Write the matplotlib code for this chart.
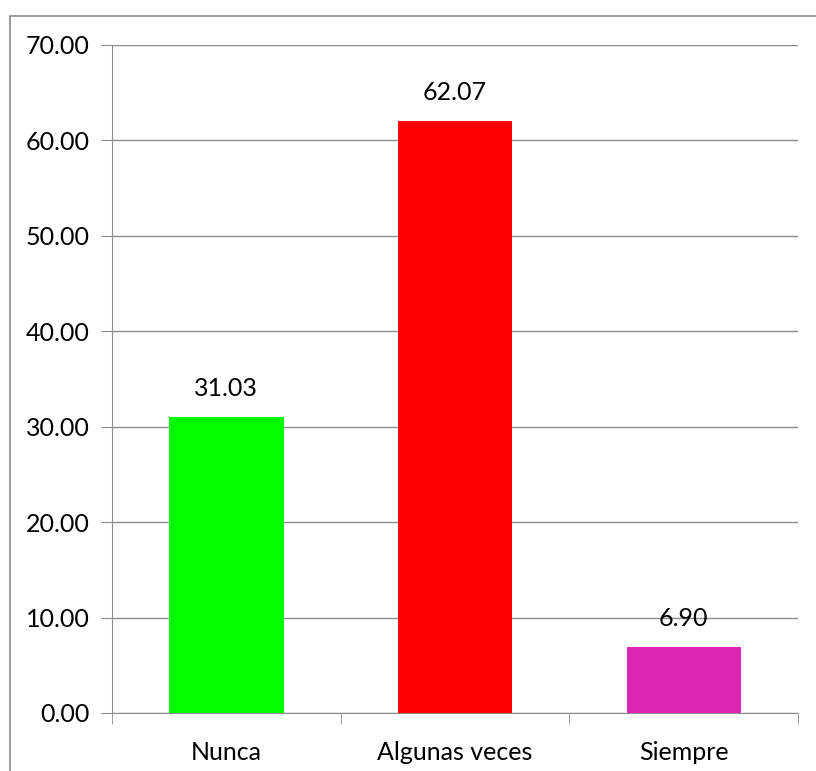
import matplotlib.pyplot as plt
from matplotlib.patches import Rectangle

categorias = ["Nunca", "Algunas veces", "Siempre"]
valores = [31.03, 62.07, 6.90]
colores = ["#00FF00", "#FF0000", "#DC26B2"]
ticks_y = [0, 10, 20, 30, 40, 50, 60, 70]

plt.rcParams['font.family'] = ['Lato', 'DejaVu Sans']
gris = "#8c8c8c"

fig = plt.figure(figsize=(8.16, 7.71), dpi=100)
ax = fig.add_axes([112/816, 1 - 713/771, 686/816, 668/771])

# marco exterior
fig.patches.append(Rectangle((10/816, -0.1), 1.2, 1 - 16/771 + 0.1, transform=fig.transFigure,
                             fill=False, edgecolor=gris, linewidth=1.2))

x = range(len(categorias))
ax.bar(x, valores, width=0.5, color=colores, zorder=3)
for i, v in enumerate(valores):
    ax.annotate(f"{v:.2f}", (i, v), xytext=(0, 12), textcoords="offset points",
                ha="center", va="bottom", fontsize=18)

ax.set_xlim(-0.5, len(categorias) - 0.5)
ax.set_ylim(0, 70)
ax.set_yticks(ticks_y)
ax.set_yticklabels([f"{t:.2f}" for t in ticks_y], fontsize=18)
ax.yaxis.grid(True, color=gris, linewidth=1, zorder=0)
ax.tick_params(axis="y", length=8, color=gris, pad=8)

ax.set_xticks(list(x))
ax.set_xticklabels(categorias, fontsize=18)
ax.tick_params(axis="x", length=0, pad=20)
ax.set_xticks([-0.5, 0.5, 1.5, 2.5], minor=True)
ax.tick_params(axis="x", which="minor", length=8, color=gris)

for s in ["top", "right"]:
    ax.spines[s].set_visible(False)
for s in ["left", "bottom"]:
    ax.spines[s].set_color(gris)

fig.savefig("out.png")
